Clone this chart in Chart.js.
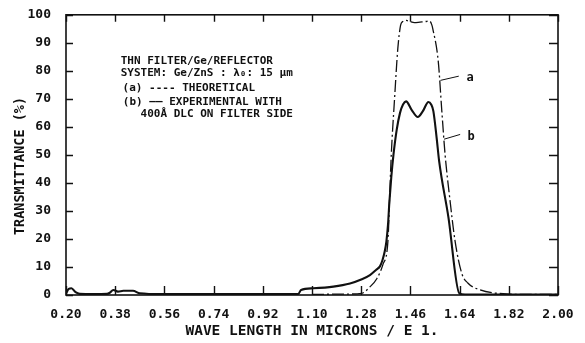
<!DOCTYPE html>
<html>
<head>
<meta charset="utf-8">
<script src="https://cdn.jsdelivr.net/npm/chart.js@4.4.1/dist/chart.umd.min.js"></script>
<style>
  html, body { margin: 0; padding: 0; background: #fff; }
  #wrap { width: 585px; height: 343px; }
</style>
</head>
<body>
<div id="wrap"><canvas id="chartFilter"></canvas></div>
<script>
// Wavelength (microns / E 1) tick positions and Y ticks
const X_TICKS = [0.20, 0.38, 0.56, 0.74, 0.92, 1.10, 1.28, 1.46, 1.64, 1.82, 2.00];
const Y_TICKS = [0, 10, 20, 30, 40, 50, 60, 70, 80, 90, 100];

// (a) theoretical, dash-dot curve
const A_WAVE = [1.10, 1.20, 1.282, 1.312, 1.337, 1.36, 1.378, 1.384, 1.39, 1.402, 1.414, 1.424, 1.432, 1.445,
  1.46, 1.475, 1.495, 1.515, 1.53, 1.538, 1.542, 1.562, 1.575, 1.587, 1.605, 1.623, 1.648, 1.67, 1.715, 1.81, 1.90, 2.00];
const A_TRANS = [0.2, 0.3, 0.6, 2.9, 5.8, 11, 19.5, 35, 50, 70, 88, 96.2, 97.6, 98,
  97.5, 97.2, 97.4, 97.6, 97.8, 96.5, 95, 83.3, 65.6, 50, 33.7, 19.5, 7.7, 4.3, 1.8, 0.4, 0.2, 0.2];

// (b) experimental, solid curve
const B_WAVE = [0.20, 0.21, 0.22, 0.235, 0.25, 0.30, 0.35, 0.36, 0.373, 0.39, 0.41, 0.445, 0.47, 0.55, 0.70, 0.90,
  1.00, 1.05, 1.06, 1.105, 1.178, 1.239, 1.28, 1.312, 1.335, 1.349, 1.358, 1.366, 1.372, 1.378, 1.383, 1.39, 1.398,
  1.41, 1.422, 1.433, 1.444, 1.465, 1.487, 1.505, 1.526, 1.536, 1.544, 1.556, 1.565, 1.599, 1.639, 1.66, 1.80, 2.00];
const B_TRANS = [0.5, 2.2, 2.4, 1.0, 0.4, 0.3, 0.4, 0.8, 1.8, 1.2, 1.5, 1.5, 0.6, 0.3, 0.3, 0.3,
  0.3, 0.4, 1.8, 2.4, 3.0, 4.1, 5.5, 7.1, 9.0, 10.3, 12.5, 15.5, 19, 25, 33, 42, 50,
  59, 65, 68, 69.1, 66, 63.5, 65.5, 68.9, 68, 65.6, 56.1, 47.9, 27.8, 0.6, 0.2, 0.2, 0.2];

const NOTE_LINES = [
  "THN FILTER/Ge/REFLECTOR",
  "SYSTEM: Ge/ZnS : λ₀: 15 µm",
  "(a) ---- THEORETICAL",
  "(b) —— EXPERIMENTAL WITH",
  "400Å DLC ON FILTER SIDE",
];
const CURVE_LABELS = ["a", "b"];
const X_TITLE = "WAVE LENGTH IN MICRONS / E 1.";
const Y_TITLE = "TRANSMITTANCE (%)";

const INK = "#111";
const MONO = "'DejaVu Sans Mono', monospace";

const toPoints = (xs, ys) => xs.map((x, i) => ({ x, y: ys[i] }));

// Frame, inward tick marks, notes, curve labels and axis titles.
// Annotation anchors are in data units and go through the chart's scales.
const NOTE_ANCHORS = [[0.400, 83.3], [0.400, 79.2], [0.407, 73.9], [0.408, 69.0], [0.473, 64.4]];
const LEADERS = [
  { from: [1.570, 76.6], to: [1.637, 78.1], text: [1.665, 77.4] },
  { from: [1.583, 55.6], to: [1.642, 57.3], text: [1.669, 56.6] },
];

const framePlugin = {
  id: "frame",
  afterDatasetsDraw(chart) {
    const { ctx, chartArea: a, scales: { x, y } } = chart;
    ctx.save();
    ctx.strokeStyle = INK;
    ctx.lineWidth = 1.6;
    ctx.strokeRect(a.left, a.top, a.right - a.left, a.bottom - a.top);

    ctx.lineWidth = 1.4;
    ctx.beginPath();
    for (const v of X_TICKS) {
      const px = Math.round(x.getPixelForValue(v)) + 0.5;
      ctx.moveTo(px, a.bottom); ctx.lineTo(px, a.bottom - 9);
      ctx.moveTo(px, a.top); ctx.lineTo(px, a.top + 7);
    }
    for (const v of Y_TICKS) {
      const py = Math.round(y.getPixelForValue(v)) + 0.5;
      ctx.moveTo(a.left, py); ctx.lineTo(a.left + 7, py);
      ctx.moveTo(a.right, py); ctx.lineTo(a.right - 9, py);
    }
    ctx.stroke();

    // notes block
    ctx.fillStyle = INK;
    ctx.font = "bold 11px " + MONO;
    ctx.textBaseline = "middle";
    ctx.textAlign = "left";
    NOTE_LINES.forEach((t, i) => {
      const [nx, ny] = NOTE_ANCHORS[i];
      ctx.fillText(t, x.getPixelForValue(nx), y.getPixelForValue(ny));
    });

    // curve labels with leader lines
    ctx.lineWidth = 1;
    LEADERS.forEach((l, i) => {
      ctx.beginPath();
      ctx.moveTo(x.getPixelForValue(l.from[0]), y.getPixelForValue(l.from[1]));
      ctx.lineTo(x.getPixelForValue(l.to[0]), y.getPixelForValue(l.to[1]));
      ctx.stroke();
      ctx.font = "bold 12px " + MONO;
      ctx.fillText(CURVE_LABELS[i], x.getPixelForValue(l.text[0]), y.getPixelForValue(l.text[1]));
    });

    // axis titles
    ctx.textAlign = "center";
    ctx.font = "bold 14.5px " + MONO;
    ctx.fillText(X_TITLE, (a.left + a.right) / 2, 331);
    ctx.translate(20, 166);
    ctx.rotate(-Math.PI / 2);
    ctx.font = "bold 13.5px " + MONO;
    ctx.fillText(Y_TITLE, 0, 0);
    ctx.restore();
  },
};

new Chart(document.getElementById("chartFilter"), {
  type: "line",
  data: {
    datasets: [
      {
        label: "(a) theoretical",
        data: toPoints(A_WAVE, A_TRANS),
        borderColor: INK,
        borderWidth: 1.3,
        borderDash: [12, 3, 2, 3],
        pointRadius: 0,
        cubicInterpolationMode: "monotone",
      },
      {
        label: "(b) experimental",
        data: toPoints(B_WAVE, B_TRANS),
        borderColor: INK,
        borderWidth: 2.1,
        pointRadius: 0,
        cubicInterpolationMode: "monotone",
      },
    ],
  },
  options: {
    responsive: true,
    maintainAspectRatio: false,
    animation: false,
    layout: { padding: { top: 13, right: 27, left: 0, bottom: 0 } },
    plugins: { legend: { display: false }, tooltip: { enabled: false } },
    scales: {
      x: {
        type: "linear",
        min: 0.2,
        max: 2.0,
        afterBuildTicks: (s) => { s.ticks = X_TICKS.map((v) => ({ value: v })); },
        afterFit: (s) => { s.height = 48; },
        grid: { display: false },
        border: { display: false },
        ticks: {
          autoSkip: false,
          maxRotation: 0,
          padding: 4,
          color: INK,
          font: { family: MONO, size: 13, weight: "bold" },
          callback: (v) => Number(v).toFixed(2),
        },
      },
      y: {
        type: "linear",
        min: 0,
        max: 100,
        afterBuildTicks: (s) => { s.ticks = Y_TICKS.map((v) => ({ value: v })); },
        afterFit: (s) => { s.width = 66; },
        grid: { display: false },
        border: { display: false },
        ticks: {
          padding: 7,
          color: INK,
          font: { family: MONO, size: 13, weight: "bold" },
        },
      },
    },
  },
  plugins: [framePlugin],
});
</script>
</body>
</html>
